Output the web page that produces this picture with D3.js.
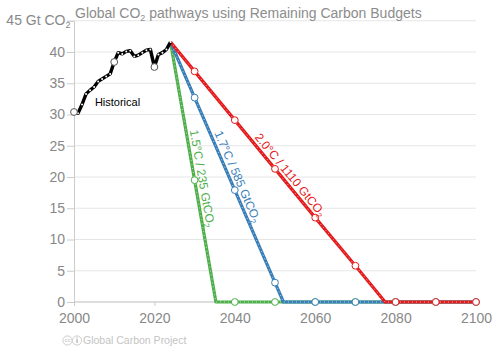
<!DOCTYPE html>
<html><head><meta charset="utf-8">
<script src="https://cdn.jsdelivr.net/npm/d3@7"></script>
<style>body{margin:0;background:#fff} svg{display:block;font-family:"Liberation Sans",Arial,Helvetica,sans-serif}</style>
</head><body><svg id="c" width="500" height="351"></svg>
<script>
// ---- data ----
const histYears  = [2000,2001,2002,2003,2004,2005,2006,2007,2008,2009,2010,2011,2012,2013,2014,2015,2016,2017,2018,2019,2020,2021,2022,2023,2024];
const histValues = [30.4,30.2,31.6,33.3,33.9,34.4,35.3,35.7,36.1,36.5,38.4,39.9,39.7,40.1,40.2,39.3,39.5,39.9,40.3,40.4,37.6,39.6,39.9,40.4,41.6];

const greenYears  = [2024,2030,2035.3,2040,2050,2060,2070,2080,2090,2100];
const greenValues = [41.6,19.5,0,0,0,0,0,0,0,0];
const blueYears   = [2024,2030,2040,2050,2052.1,2060,2070,2080,2090,2100];
const blueValues  = [41.6,32.7,17.9,3.1,0,0,0,0,0,0];
const redYears    = [2024,2030,2040,2050,2060,2070,2077.4,2080,2090,2100];
const redValues   = [41.6,36.9,29.1,21.3,13.5,5.8,0,0,0,0];

const scenarioLabels = ["1.5°C / 235 GtCO", "1.7°C / 585 GtCO", "2.0°C / 1110 GtCO"];
const xTicks = [2000,2020,2040,2060,2080,2100];
const yTicks = [0,5,10,15,20,25,30,35,40,45];
const titleText = ["Global CO", "2", " pathways using Remaining Carbon Budgets"];
const yUnitText = ["45 Gt CO", "2"];
const histLabel = "Historical";
const footerText = "Global Carbon Project";

// ---- chart ----
const svg = d3.select("#c");
const x = d3.scaleLinear().domain([2000,2100]).range([74,476]);
const y = d3.scaleLinear().domain([0,45]).range([302,20.75]);
const grey = "#888";

// gridlines
svg.append("g").selectAll("line").data(yTicks.filter(d=>d>0)).join("line")
  .attr("x1",x(2000)).attr("x2",x(2100)).attr("y1",d=>y(d)).attr("y2",d=>y(d))
  .attr("stroke","#e6e6e6").attr("stroke-width",1);

// y axis
const yAxis = d3.axisLeft(y).tickValues(yTicks).tickSize(7).tickPadding(2)
  .tickFormat(d=> d===45 ? "" : d);
const gy = svg.append("g").attr("transform",`translate(${x(2000)},0)`).call(yAxis);
gy.select(".domain").attr("stroke","#ccc");
gy.selectAll(".tick line").attr("stroke","#ccc");
gy.selectAll(".tick text").attr("fill",grey).attr("font-size",14).attr("font-family","Liberation Sans, Arial, sans-serif");
gy.selectAll(".tick").filter(d=>d===0).select("line").attr("stroke","none");

const unit = svg.append("text").attr("x",x(2000)-3.5).attr("y",y(45)).attr("dy","0.32em")
  .attr("text-anchor","end").attr("fill",grey).attr("font-size",14);
unit.append("tspan").text(yUnitText[0]);
unit.append("tspan").text(yUnitText[1]).attr("font-size",9).attr("dy",3);

// x axis
const xAxis = d3.axisBottom(x).tickValues(xTicks).tickSize(4).tickPadding(7).tickFormat(d3.format("d"));
const gx = svg.append("g").attr("transform",`translate(0,${y(0)})`).call(xAxis);
gx.select(".domain").attr("stroke","#bbb").attr("d",`M${x(2000)},0H${x(2100)}`);
gx.selectAll(".tick line").attr("stroke","#ccc");
gx.selectAll(".tick text").attr("fill",grey).attr("font-size",14).attr("font-family","Liberation Sans, Arial, sans-serif");

// title
const title = svg.append("text").attr("x",75).attr("y",17.5).attr("fill","#8c8c8c").attr("font-size",14);
title.append("tspan").text(titleText[0]);
title.append("tspan").text(titleText[1]).attr("font-size",9).attr("dy",3);
title.append("tspan").text(titleText[2]).attr("dy",-3);

const line = d3.line().x(d=>x(d[0])).y(d=>y(d[1]));

function scenario(years, values, color, label) {
  const pts = years.map((yr,i)=>[yr, values[i]]);
  const g = svg.append("g");
  g.append("path").attr("d",line(pts)).attr("fill","none").attr("stroke",color)
    .attr("stroke-width",3.2).attr("stroke-linejoin","round");
  g.append("path").attr("d",line(pts)).attr("fill","none").attr("stroke","#fff")
    .attr("stroke-opacity",0.7).attr("stroke-width",0.9).attr("stroke-dasharray","1,3");
  g.selectAll("circle").data(pts.filter(p=>p[0]%10===0)).join("circle")
    .attr("cx",d=>x(d[0])).attr("cy",d=>y(d[1])).attr("r",3.4)
    .attr("fill","#fff").attr("stroke",color).attr("stroke-width",1);
  // rotated label along the descending segment
  const zi = values.indexOf(0);
  const x0 = x(years[0]), y0 = y(values[0]), x1 = x(years[zi]), y1 = y(0);
  const dx = x1-x0, dy = y1-y0, L = Math.hypot(dx,dy);
  const nx = dy/L, ny = -dx/L, f = 0.53, off = 8;
  const px = x0+dx*f+nx*off, py = y0+dy*f+ny*off;
  const ang = Math.atan2(dy,dx)*180/Math.PI;
  const t = svg.append("text").attr("transform",`translate(${px},${py}) rotate(${ang})`)
    .attr("text-anchor","middle").attr("dy","0.35em").attr("fill",color).attr("font-size",12);
  t.append("tspan").text(label);
  t.append("tspan").text("2").attr("font-size",8).attr("dy",2.5);
}
scenario(greenYears, greenValues, "#4daf4a", scenarioLabels[0]);
scenario(blueYears, blueValues, "#377eb8", scenarioLabels[1]);
scenario(redYears, redValues, "#e41a1c", scenarioLabels[2]);

// historical
const hpts = histYears.map((yr,i)=>[yr, histValues[i]]);
const hg = svg.append("g");
hg.append("path").attr("d",line(hpts)).attr("fill","none").attr("stroke","#000")
  .attr("stroke-width",3.4).attr("stroke-linejoin","round");
hg.selectAll("circle.dot").data(hpts).join("circle").attr("class","dot")
  .attr("cx",d=>x(d[0])).attr("cy",d=>y(d[1])).attr("r",1).attr("fill","#fff");
hg.selectAll("circle.big").data(hpts.filter(p=>p[0]%10===0)).join("circle").attr("class","big")
  .attr("cx",d=>x(d[0])).attr("cy",d=>y(d[1])).attr("r",3.4)
  .attr("fill","#fff").attr("stroke","#555").attr("stroke-width",1);
svg.append("text").attr("x",x(2005.2)).attr("y",y(31.3)).attr("fill","#000")
  .attr("font-size",11).text(histLabel);

// footer
const fg = svg.append("g").attr("fill","none").attr("stroke","#ccc");
fg.append("circle").attr("cx",67.5).attr("cy",340.5).attr("r",4.6);
fg.append("circle").attr("cx",77).attr("cy",340.5).attr("r",4.6);
svg.append("text").attr("x",67.5).attr("y",342.3).attr("text-anchor","middle").attr("font-size",5.5)
  .attr("font-weight","bold").attr("fill","#ccc").text("cc");
svg.append("circle").attr("cx",77).attr("cy",337.8).attr("r",0.9).attr("fill","#ccc");
svg.append("rect").attr("x",76).attr("y",339.2).attr("width",2).attr("height",3.8).attr("fill","#ccc");
svg.append("text").attr("x",83).attr("y",344.3).attr("fill","#c4c4c4").attr("font-size",10.5).text(footerText);
</script></body></html>
